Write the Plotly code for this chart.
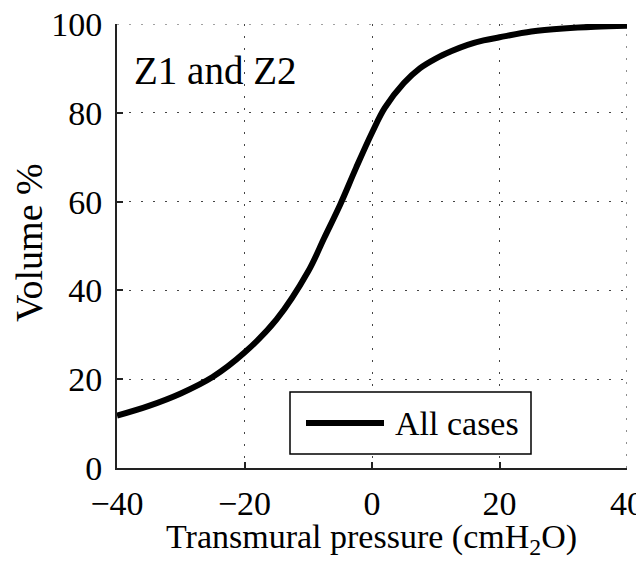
import plotly.graph_objects as go

# Data
pressure = [-40, -35, -30, -25, -20, -15, -10, -7.5, -5, -2.5, 0, 2, 5, 7.5, 10, 12.5, 15, 17.5, 20, 25, 30, 35, 40]
volume = [11.8, 14.0, 16.8, 20.5, 26.0, 33.4, 44.3, 51.8, 59.3, 67.6, 75.5, 81.1, 86.7, 90.0, 92.2, 93.9, 95.3, 96.3, 97.0, 98.3, 99.0, 99.4, 99.6]
series_name = "All cases"
panel_label = "Z1 and Z2"
x_title = "Transmural pressure (cmH<sub>2</sub>O)"
y_title = "Volume %"
x_ticks = [-40, -20, 0, 20, 40]
y_ticks = [0, 20, 40, 60, 80, 100]
x_range = [-40, 40]
y_range = [0, 100]

FONT = "Liberation Serif, Times New Roman, serif"

fig = go.Figure()
fig.add_trace(go.Scatter(
    x=pressure, y=volume, mode="lines", name=series_name,
    line=dict(color="black", width=6, shape="spline", smoothing=1.0),
    showlegend=False,
))

GRID_COLOR = "#444"
GRID_DASH = "2px,10px"

axis_common = dict(
    showline=True, linecolor="#222", linewidth=2,
    ticks="inside", ticklen=6, tickwidth=1.5, tickcolor="#222",
    showgrid=True, gridcolor=GRID_COLOR, griddash=GRID_DASH, gridwidth=1.2,
    zeroline=False, mirror=False, automargin=False, ticklabeloverflow="allow",
    tickfont=dict(family=FONT, size=34, color="black"),
)

# page body has an 8px margin, so the figure is drawn 8px in from the corner
PL, PR, PT, PB = 117, 627, 24, 468   # plot area in page pixels
fig.update_layout(
    width=636, height=561,
    margin=dict(l=PL - 8, r=644 - PR - 8 + 8, t=PT - 8, b=569 - PB, autoexpand=False),
    paper_bgcolor="white", plot_bgcolor="white",
    font=dict(family=FONT, color="black"),
    xaxis=dict(range=x_range, tickvals=x_ticks, ticklabelstandoff=4, **axis_common),
    yaxis=dict(range=y_range, tickvals=y_ticks, ticklabelstandoff=6, **axis_common),
)

W, H = PR - PL, PB - PT
def px_x(p):
    return (p - PL) / W
def px_y(p):
    return (PB - p) / H

# Axis titles
fig.add_annotation(text=x_title, xref="paper", yref="paper",
                   x=px_x(371.5), y=px_y(516), xanchor="center", yanchor="top",
                   showarrow=False, font=dict(family=FONT, size=34, color="black"))
fig.add_annotation(text=y_title, xref="paper", yref="paper", textangle=-90,
                   x=px_x(29), y=px_y(243), xanchor="center", yanchor="middle",
                   showarrow=False, font=dict(family=FONT, size=38, color="black"))

# grid lines on the far edges (Plotly drops gridlines at the range ends)
fig.add_shape(type="line", xref="x", yref="y", x0=x_range[0], x1=x_range[1],
              y0=y_range[1], y1=y_range[1], layer="below",
              line=dict(color=GRID_COLOR, width=1.2, dash=GRID_DASH))
fig.add_shape(type="line", xref="x", yref="y", x0=x_range[1], x1=x_range[1],
              y0=y_range[0], y1=y_range[1], layer="below",
              line=dict(color=GRID_COLOR, width=1.2, dash=GRID_DASH))

# Panel label
fig.add_annotation(text=panel_label, xref="paper", yref="paper",
                   x=px_x(132), y=px_y(70), xanchor="left", yanchor="middle",
                   showarrow=False, font=dict(family=FONT, size=39, color="black"))

# Manual legend box
fig.add_shape(type="rect", xref="paper", yref="paper",
              x0=px_x(290), x1=px_x(531), y0=px_y(454), y1=px_y(392),
              line=dict(color="black", width=1.5), fillcolor="white", layer="above")
ymid = px_y(423)
fig.add_shape(type="line", xref="paper", yref="paper",
              x0=px_x(306), x1=px_x(384), y0=ymid, y1=ymid,
              line=dict(color="black", width=6), layer="above")
fig.add_annotation(text=series_name, xref="paper", yref="paper",
                   x=px_x(393), y=ymid, xanchor="left", yanchor="middle",
                   showarrow=False, font=dict(family=FONT, size=34, color="black"))

fig.write_html("out.html")
